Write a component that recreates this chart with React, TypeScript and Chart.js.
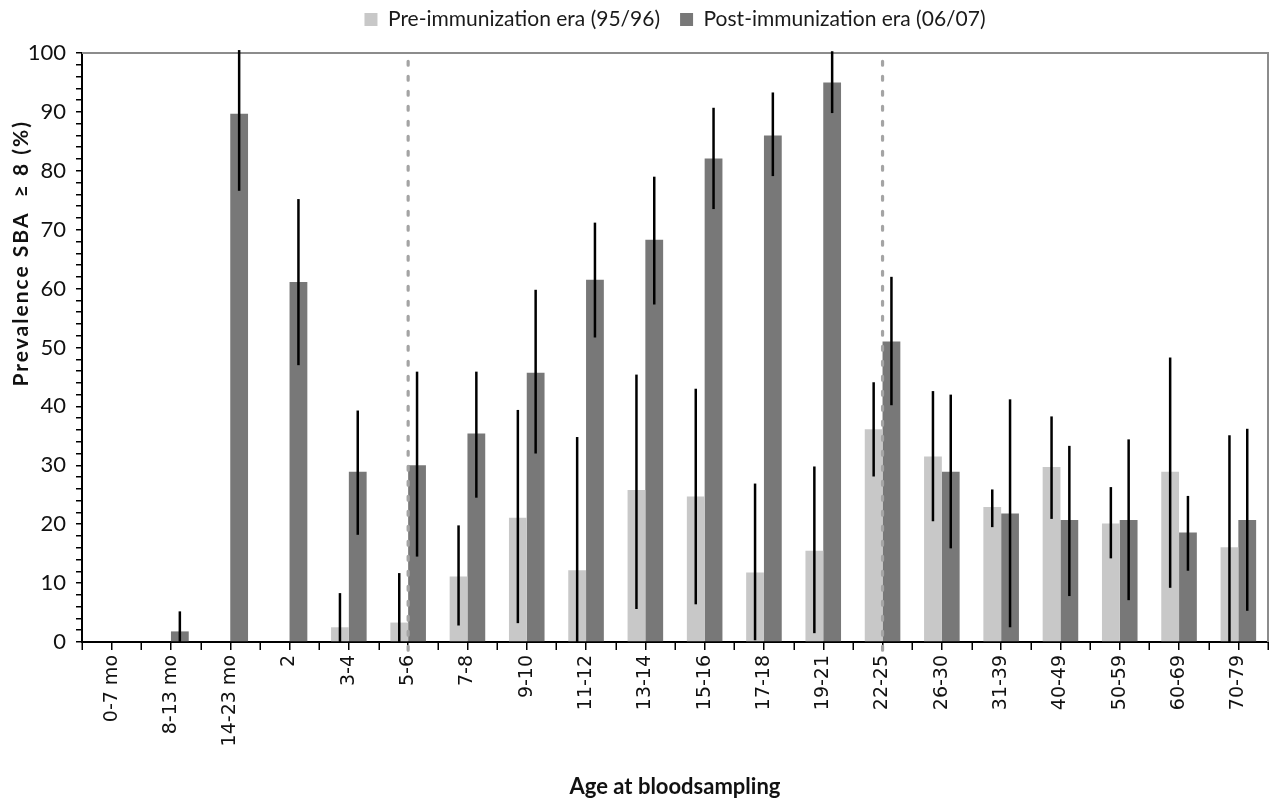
import React, { useEffect, useRef } from "react";
import { Chart, registerables, layouts } from "chart.js";

Chart.register(...registerables);

const categories = [
  "0-7 mo", "8-13 mo", "14-23 mo", "2", "3-4", "5-6", "7-8", "9-10", "11-12", "13-14",
  "15-16", "17-18", "19-21", "22-25", "26-30", "31-39", "40-49", "50-59", "60-69", "70-79",
];

const seriesLabels = ["Pre-immunization era (95/96)", "Post-immunization era (06/07)"];

const preValues = [0, 0, 0, 0, 2.5, 3.3, 11.1, 21.1, 12.2, 25.8, 24.7, 11.8, 15.5, 36.1, 31.5, 22.9, 29.7, 20.1, 28.9, 16.1];
const preLower = [null, null, null, null, 0, 0, 2.8, 3.2, 0, 5.6, 6.4, 0.3, 1.5, 28.1, 20.5, 19.5, 20.9, 14.2, 9.2, 0];
const preUpper = [null, null, null, null, 8.3, 11.7, 19.8, 39.4, 34.8, 45.4, 43.0, 26.9, 29.8, 44.1, 42.6, 25.9, 38.3, 26.3, 48.3, 35.1];

const postValues = [0, 1.8, 89.7, 61.1, 28.9, 30.0, 35.4, 45.7, 61.5, 68.3, 82.1, 86.0, 95.0, 51.0, 28.9, 21.8, 20.7, 20.7, 18.6, 20.7];
const postLower = [null, 0, 76.6, 47, 18.2, 14.5, 24.5, 32.0, 51.7, 57.3, 73.5, 79.1, 89.8, 40.2, 15.9, 2.5, 7.8, 7.1, 12.1, 5.3];
const postUpper = [null, 5.2, 100.5, 75.2, 39.3, 45.9, 45.9, 59.8, 71.2, 79.0, 90.7, 93.3, 100.3, 62.0, 42.0, 41.2, 33.3, 34.4, 24.8, 36.2];

const dividerCategories = ["5-6", "22-25"];
const dividerRange = [98.6, -2.7];

const yTitleText = "Prevalence SBA  \u2265 8 (%)";
const xTitleText = "Age at bloodsampling";

const yMin = 0;
const yMax = 100;
const yMinorStep = 2;
const yMajorStep = 10;

const PRE_COLOR = "#c8c8c8";
const POST_COLOR = "#787878";
const SANS = "Lato, 'Open Sans', sans-serif";

export default function App() {
  const canvasRef = useRef<HTMLCanvasElement | null>(null);

  useEffect(() => {
    const canvas = canvasRef.current;
    if (!canvas) return;

    const errorSets = [
      [preLower, preUpper],
      [postLower, postUpper],
    ];

    const topSpacer = {
      id: "topSpacer",
      beforeInit(chart: any) {
        const box: any = {
          position: "top",
          weight: 500,
          fullSize: true,
          options: {},
          left: 0,
          top: 0,
          right: 0,
          bottom: 0,
          width: 0,
          height: 0,
          isHorizontal: () => true,
          update(maxWidth: number) {
            box.width = maxWidth;
            box.height = 13;
          },
          draw() {},
        };
        layouts.addBox(chart, box);
      },
    };

    const frame = {
      id: "frame",
      beforeDatasetsDraw(chart: any) {
        const { ctx, chartArea: a } = chart;
        ctx.save();
        ctx.strokeStyle = "#8c8c8c";
        ctx.lineWidth = 2;
        ctx.beginPath();
        ctx.moveTo(a.left, a.top);
        ctx.lineTo(a.right, a.top);
        ctx.lineTo(a.right, a.bottom);
        ctx.stroke();
        ctx.restore();
      },
    };

    const overlays = {
      id: "overlays",
      afterDatasetsDraw(chart: any) {
        const { ctx } = chart;
        const xs = chart.scales.x;
        const ys = chart.scales.y;
        ctx.save();
        ctx.strokeStyle = "#a4a4a4";
        ctx.lineWidth = 3.2;
        ctx.lineCap = "round";
        ctx.setLineDash([4, 11]);
        dividerCategories.forEach((c) => {
          const x = xs.getPixelForValue(categories.indexOf(c));
          ctx.beginPath();
          ctx.moveTo(x, ys.getPixelForValue(dividerRange[0]));
          ctx.lineTo(x, ys.getPixelForValue(dividerRange[1]));
          ctx.stroke();
        });
        ctx.restore();
        ctx.save();
        ctx.strokeStyle = "#000";
        ctx.lineWidth = 2.5;
        errorSets.forEach(([lo, hi], di) => {
          const meta = chart.getDatasetMeta(di);
          meta.data.forEach((bar: any, i: number) => {
            if (lo[i] == null || hi[i] == null) return;
            ctx.beginPath();
            ctx.moveTo(bar.x, ys.getPixelForValue(lo[i] as number));
            ctx.lineTo(bar.x, ys.getPixelForValue(hi[i] as number));
            ctx.stroke();
          });
        });
        ctx.restore();
      },
      afterDraw(chart: any) {
        const { ctx } = chart;
        const xs = chart.scales.x;
        const n = categories.length;
        const step = (xs.right - xs.left) / n;
        ctx.save();
        ctx.strokeStyle = "#000";
        ctx.lineWidth = 1.5;
        for (let i = 0; i <= n; i++) {
          const x = Math.round(xs.left + i * step) + 0.25;
          ctx.beginPath();
          ctx.moveTo(x, xs.top);
          ctx.lineTo(x, xs.top + 8);
          ctx.stroke();
        }
        ctx.restore();
        const ys = chart.scales.y;
        ctx.save();
        ctx.translate(21, ys.getPixelForValue(66));
        ctx.rotate(-Math.PI / 2);
        ctx.font = `bold 21px ${SANS}`;
        (ctx as any).letterSpacing = "2px";
        ctx.fillStyle = "#111";
        ctx.textAlign = "center";
        ctx.textBaseline = "middle";
        ctx.fillText(yTitleText, 0, 0);
        ctx.restore();
      },
    };

    const chart = new Chart(canvas, {
      type: "bar",
      data: {
        labels: categories,
        datasets: [
          {
            label: seriesLabels[0],
            data: preValues,
            backgroundColor: PRE_COLOR,
            borderWidth: 0,
            barPercentage: 1,
            categoryPercentage: 0.6,
          },
          {
            label: seriesLabels[1],
            data: postValues,
            backgroundColor: POST_COLOR,
            borderWidth: 0,
            barPercentage: 1,
            categoryPercentage: 0.6,
          },
        ],
      },
      options: {
        responsive: false,
        animation: false,
        layout: { padding: { top: -11, right: 1, left: 0, bottom: 0 } },
        plugins: {
          legend: {
            position: "top",
            fullSize: false,
            labels: {
              font: { family: SANS, size: 21 },
              color: "#1a1a1a",
              boxWidth: 13,
              boxHeight: 13,
              padding: 20,
            },
          },
          tooltip: { enabled: false },
        },
        scales: {
          x: {
            offset: true,
            grid: {
              offset: false,
              drawOnChartArea: false,
              drawTicks: true,
              tickLength: 8,
              color: "#000",
              lineWidth: 1.5,
            },
            border: { display: true, color: "#000", width: 2 },
            ticks: {
              autoSkip: false,
              minRotation: 90,
              maxRotation: 90,
              padding: 5,
              color: "#111",
              font: { family: "'DejaVu Sans', sans-serif", size: 19 },
            },
            title: {
              display: true,
              text: xTitleText,
              color: "#111",
              font: { family: SANS, size: 22, weight: "bold" },
              padding: { top: 4, bottom: 0 },
            },
            afterFit(scale: any) {
              scale.height = 158;
            },
          },
          y: {
            min: yMin,
            max: yMax,
            grid: {
              drawOnChartArea: false,
              drawTicks: true,
              tickLength: 6,
              color: "#000",
              lineWidth: 1.5,
            },
            border: { display: true, color: "#000", width: 2 },
            ticks: {
              stepSize: yMinorStep,
              autoSkip: false,
              padding: 10,
              color: "#111",
              font: { family: SANS, size: 22 },
              callback: (v: any) => (Number(v) % yMajorStep === 0 ? String(v) : ""),
            },
            afterFit(scale: any) {
              scale.width = 82;
            },
          },
        },
      },
      plugins: [topSpacer, frame, overlays],
    });

    return () => chart.destroy();
  }, []);

  return (
    <div style={{ position: "fixed", left: 0, top: 0, width: 1269, height: 800, background: "#fff" }}>
      <canvas ref={canvasRef} width={1269} height={800} style={{ display: "block" }} />
    </div>
  );
}
